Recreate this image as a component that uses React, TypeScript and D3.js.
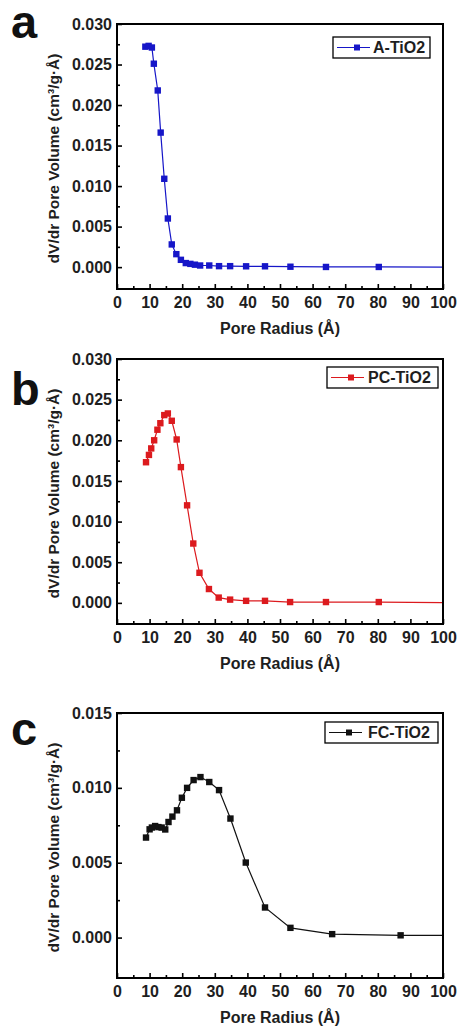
import React, { useEffect, useRef } from "react";
import * as d3 from "d3";

// ---- data ----
const radiusA = [8.7, 9.7, 10.7, 11.3, 12.5, 13.4, 14.5, 15.6, 16.8, 18.2, 19.6, 21.1, 22.5, 23.9, 25.5, 28.3, 31.3, 34.7, 39.6, 45.4, 53.2, 64.1, 80.3, 108];
const volumeA = [0.0272, 0.0273, 0.0271, 0.0251, 0.0218, 0.0166, 0.0109, 0.0060, 0.0028, 0.0016, 0.0009, 0.0005, 0.0004, 0.0003, 0.0002, 0.0002, 0.00012, 0.00012, 0.0001, 0.0001, 0.00005, 0.00002, 0.00002, 0.0];

const radiusB = [8.9, 9.8, 10.5, 11.4, 12.4, 13.3, 14.5, 15.6, 16.8, 18.3, 19.6, 21.5, 23.4, 25.3, 28.2, 31.2, 34.7, 39.6, 45.4, 53.1, 64.1, 80.3, 108];
const volumeB = [0.0173, 0.0182, 0.0190, 0.0200, 0.0213, 0.0221, 0.0231, 0.0233, 0.0224, 0.0201, 0.0167, 0.0120, 0.0073, 0.0037, 0.0017, 0.00065, 0.0004, 0.00025, 0.00025, 0.0001, 0.0001, 0.0001, 0.0];

const radiusC = [8.9, 10.0, 10.7, 11.7, 12.7, 13.7, 14.8, 15.8, 17.0, 18.4, 19.9, 21.5, 23.5, 25.6, 28.3, 31.3, 34.8, 39.5, 45.4, 53.2, 66.0, 87.0, 115];
const volumeC = [0.00668, 0.00723, 0.00735, 0.00745, 0.00738, 0.00735, 0.00722, 0.00772, 0.00808, 0.0085, 0.00934, 0.0100, 0.01052, 0.01072, 0.01039, 0.00985, 0.00795, 0.00501, 0.00201, 0.00065, 0.00023, 0.00015, 0.00013];

const xTicks = [0, 10, 20, 30, 40, 50, 60, 70, 80, 90, 100];
const xMinorTicks = [5, 15, 25, 35, 45, 55, 65, 75, 85, 95];
const yTicksAB = [0, 0.005, 0.01, 0.015, 0.02, 0.025, 0.03];
const yMinorAB = [0.0025, 0.0075, 0.0125, 0.0175, 0.0225, 0.0275];
const yTicksC = [0, 0.005, 0.01, 0.015];
const yMinorC = [0.0025, 0.0075, 0.0125];

const seriesLabels = ["A-TiO2", "PC-TiO2", "FC-TiO2"];
const panelLetters = ["a", "b", "c"];

const FONT = "'Liberation Sans', Arial, Helvetica, sans-serif";
const W = 462;
const H = 1031;
const LEFT = 117;
const RIGHT = 443;
const PH = 265;

const panels = [
  { letter: panelLetters[0], label: seriesLabels[0], radius: radiusA, volume: volumeA, color: "#1616c8", top: 24, yDomain: [-0.0027, 0.03], yTicks: yTicksAB, yMinor: yMinorAB, letterY: 38, legend: { x: 333, y: 37, w: 97, tx: 40 } },
  { letter: panelLetters[1], label: seriesLabels[1], radius: radiusB, volume: volumeB, color: "#dc1a1e", top: 359, yDomain: [-0.0026, 0.03], yTicks: yTicksAB, yMinor: yMinorAB, letterY: 405, legend: { x: 327, y: 367, w: 111, tx: 41 } },
  { letter: panelLetters[2], label: seriesLabels[2], radius: radiusC, volume: volumeC, color: "#111111", top: 713, yDomain: [-0.0027, 0.015], yTicks: yTicksC, yMinor: yMinorC, letterY: 745, legend: { x: 325, y: 722, w: 113, tx: 43 } },
];

export default function App() {
  const ref = useRef<SVGSVGElement | null>(null);

  useEffect(() => {
    const svg = d3.select(ref.current);
    svg.selectAll("*").remove();

    panels.forEach((p, i) => {
      const bottom = p.top + PH;
      const x = d3.scaleLinear().domain([0, 100]).range([LEFT, RIGHT]);
      const y = d3.scaleLinear().domain(p.yDomain).range([bottom, p.top]);
      const g = svg.append("g");

      const clipId = "clip" + i;
      svg.append("defs").append("clipPath").attr("id", clipId)
        .append("rect").attr("x", LEFT).attr("y", p.top).attr("width", RIGHT - LEFT).attr("height", PH);

      const pts = p.radius.map((r, k) => [r, p.volume[k]] as [number, number]);
      const line = d3.line<[number, number]>().x(d => x(d[0])).y(d => y(d[1]));
      const dg = g.append("g").attr("clip-path", `url(#${clipId})`);
      dg.append("path").attr("d", line(pts)).attr("fill", "none").attr("stroke", p.color).attr("stroke-width", 1.2);
      const ms = 6.4;
      dg.selectAll("rect.m").data(pts).enter().append("rect")
        .attr("x", d => x(d[0]) - ms / 2).attr("y", d => y(d[1]) - ms / 2)
        .attr("width", ms).attr("height", ms).attr("fill", p.color);

      const xAxis = d3.axisBottom(x).tickValues(xTicks).tickSize(-5).tickPadding(8).tickFormat(d3.format("d") as any);
      const xMinor = d3.axisBottom(x).tickValues(xMinorTicks).tickSize(-3).tickFormat(() => "");
      const yAxis = d3.axisLeft(y).tickValues(p.yTicks).tickSize(-5).tickPadding(5).tickFormat(d3.format(".3f") as any);
      const yMinor = d3.axisLeft(y).tickValues(p.yMinor).tickSize(-3).tickFormat(() => "");

      const styleAxis = (sel: any) => {
        sel.select(".domain").remove();
        sel.selectAll("line").attr("stroke", "#000").attr("stroke-width", 1.6);
        sel.selectAll("text").attr("font-family", FONT).attr("font-weight", "bold").attr("font-size", 16).attr("fill", "#1e1e1e");
      };
      g.append("g").attr("transform", `translate(0,${bottom})`).call(xAxis).call(styleAxis);
      g.append("g").attr("transform", `translate(0,${bottom})`).call(xMinor).call(styleAxis);
      g.append("g").attr("transform", `translate(${LEFT},0)`).call(yAxis).call(styleAxis);
      g.append("g").attr("transform", `translate(${LEFT},0)`).call(yMinor).call(styleAxis);

      g.append("rect").attr("x", LEFT).attr("y", p.top).attr("width", RIGHT - LEFT).attr("height", PH)
        .attr("fill", "none").attr("stroke", "#000").attr("stroke-width", 2);

      g.append("text").attr("x", (LEFT + RIGHT) / 2).attr("y", bottom + 45)
        .attr("text-anchor", "middle").attr("font-family", FONT).attr("font-weight", "bold").attr("font-size", 16).attr("fill", "#1e1e1e")
        .text("Pore Radius (Å)");
      const cy = p.top + PH / 2 + 2;
      g.append("text").attr("transform", `translate(54,${cy}) rotate(-90)`).attr("dy", "0.35em")
        .attr("text-anchor", "middle").attr("font-family", FONT).attr("font-weight", "bold").attr("font-size", 15.5).attr("fill", "#1e1e1e")
        .text("dV/dr Pore Volume (cm³/g·Å)");

      g.append("text").attr("x", 11).attr("y", p.letterY).attr("font-family", FONT).attr("font-weight", "bold")
        .attr("font-size", 47).attr("fill", "#111").text(p.letter);

      const L = p.legend;
      const lg = g.append("g");
      lg.append("rect").attr("x", L.x).attr("y", L.y).attr("width", L.w).attr("height", 21)
        .attr("fill", "#fff").attr("stroke", "#000").attr("stroke-width", 1.3);
      lg.append("line").attr("x1", L.x + 4).attr("x2", L.x + 37).attr("y1", L.y + 10.5).attr("y2", L.y + 10.5)
        .attr("stroke", p.color).attr("stroke-width", 1.2);
      lg.append("rect").attr("x", L.x + 24 - 3).attr("y", L.y + 10.5 - 3).attr("width", 6).attr("height", 6).attr("fill", p.color);
      lg.append("text").attr("x", L.x + L.tx).attr("y", L.y + 16).attr("font-family", FONT).attr("font-weight", "bold")
        .attr("font-size", 16).attr("fill", "#1e1e1e").text(p.label);
    });
  }, []);

  return (
    <svg ref={ref} width={W} height={H} style={{ position: "absolute", left: 0, top: 0, background: "#fff" }} />
  );
}
